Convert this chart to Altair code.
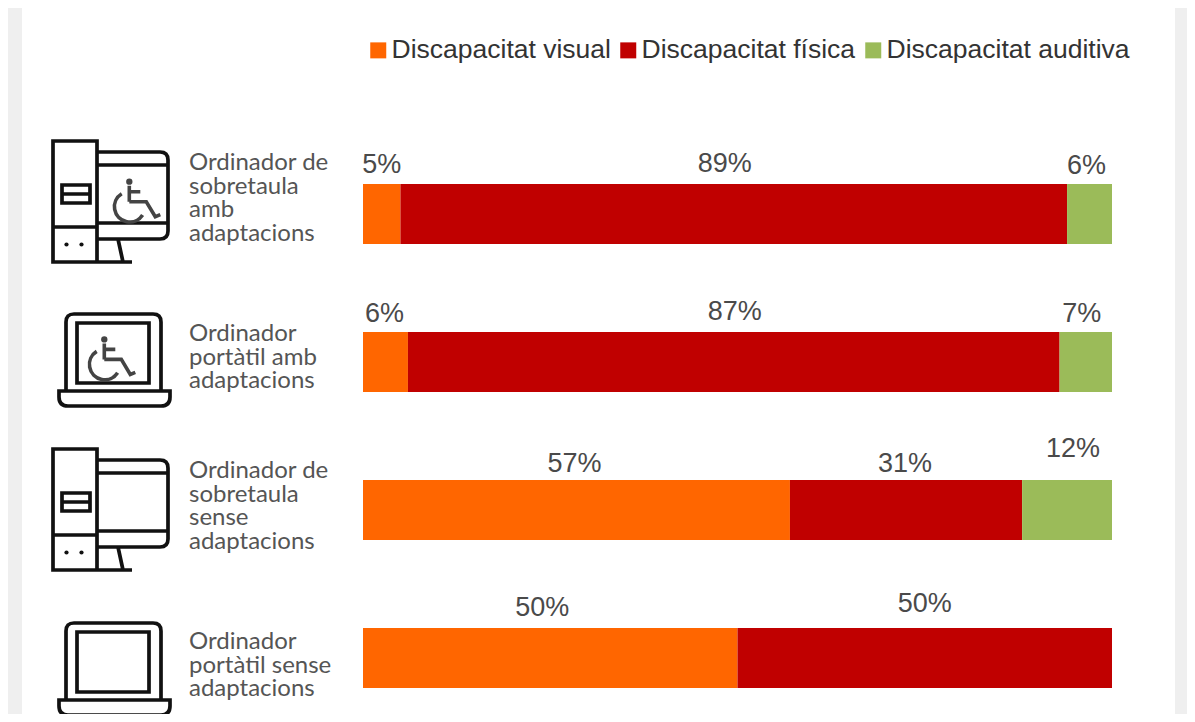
import altair as alt
import pandas as pd

categories = ["Ordinador de\nsobretaula\namb\nadaptacions",
              "Ordinador\nportàtil amb\nadaptacions",
              "Ordinador de\nsobretaula\nsense\nadaptacions",
              "Ordinador\nportàtil sense\nadaptacions"]
series = ["Discapacitat visual", "Discapacitat física", "Discapacitat auditiva"]
colors = ["#FF6600", "#C00000", "#9BBB59"]
visual = [5, 6, 57, 50]
fisica = [89, 87, 31, 50]
auditiva = [6, 7, 12, 0]

# hand nudges of the value labels (px), as placed in the source picture
label_dx = [[0, -9, -3], [-1, 1, -4], [-2, -1, 6], [-8, 0, 0]]
label_dy = [[-49, -50, -48], [-48, -50, -48], [-46, -46, -61], [-50, -54, 0]]
cat_dy = [-51, -28, -39, -16]

rows = []
for i, c in enumerate(categories):
    cum = 0
    for j, vals in enumerate([visual, fisica, auditiva]):
        v = vals[i]
        if v > 0:
            rows.append(dict(cat=c, serie=series[j], value=v, ord=j, mid=cum + v / 2,
                             label=f"{v}%", dx=label_dx[i][j], dy=label_dy[i][j]))
        cum += v
df = pd.DataFrame(rows)

xs = alt.Scale(domain=[0, 100], range=[355, 1104])
ys = alt.Scale(domain=categories, range=[176, 680], paddingInner=88 / 148, paddingOuter=0)
Y = alt.Y("cat:N", scale=ys, axis=None, sort=categories)

one = pd.DataFrame({"a": [0]})

panel = alt.Chart(one).mark_rect(color="#ffffff").encode(
    x=alt.value(14), x2=alt.value(1167), y=alt.value(0), y2=alt.value(706))

bars = alt.Chart(df).mark_bar(size=60).encode(
    x=alt.X("value:Q", stack="zero", scale=xs, axis=None),
    y=Y,
    order=alt.Order("ord:Q"),
    color=alt.Color("serie:N", scale=alt.Scale(domain=series, range=colors),
                    legend=alt.Legend(orient="none", legendX=357, legendY=29, direction="horizontal",
                                      columns=3, title=None, symbolType="square", symbolSize=256,
                                      symbolStrokeWidth=0, labelFont="Liberation Sans",
                                      labelFontSize=26.5, labelColor="#333333", labelOffset=0,
                                      columnPadding=4, labelLimit=400)),
)

layers = [panel, bars]

for _, r in df.iterrows():
    layers.append(alt.Chart(pd.DataFrame([r.to_dict()])).mark_text(
        font="Liberation Sans", fontSize=27, color="#4a4a4a", dx=int(r.dx), dy=int(r.dy),
        align="center", baseline="middle").encode(
        x=alt.X("mid:Q", scale=xs, axis=None), y=Y, text="label:N"))

for i, c in enumerate(categories):
    layers.append(alt.Chart(pd.DataFrame({"cat": [c]})).mark_text(
        font="Lato", fontSize=24, color="#555555", align="left", baseline="middle",
        lineBreak="\n", lineHeight=23.7, dy=cat_dy[i]).encode(
        x=alt.value(181), y=Y, text="cat:N"))

DESKTOP = ("M0 0H44V121H0Z M0 86H44 M9 44H37V62H9Z M9 53H37 M0 121H79 "
           "M44 11H107Q115 11 115 19V90Q115 98 107 98H44 M44 24H115 M44 82H115 M65 98L70 121")
LAPTOP = ("M0 77V8Q0 0 8 0H87Q95 0 95 8V77 M11 9H83V69H11Z "
          "M-7 77H104V83Q104 92 95 92H2Q-7 92 -7 83Z")
WHEEL = ("M0 4V20 M0 10H11 M0 20H17L26 35L31 33 "
         "M-7.6 12A15.3 15.3 0 1 0 13.3 33.3")


def icon(path, x, y, color="#111111", sw=3.7):
    return alt.Chart(one).mark_point(
        shape=path, size=4, filled=False, stroke=color, strokeWidth=sw, opacity=1).encode(
        x=alt.value(x), y=alt.value(y))


def dot(x, y, color="#111111", size=18):
    return alt.Chart(one).mark_circle(color=color, size=size, opacity=1).encode(
        x=alt.value(x), y=alt.value(y))


layers += [
    icon(DESKTOP, 45, 133),
    dot(58.5, 236.5), dot(73.5, 236.5),
    icon(WHEEL, 121.3, 173.7, "#444444", 3.6),
    dot(121.3, 173.7, "#444444", 40),
    icon(LAPTOP, 58, 306),
    icon(WHEEL, 96.3, 331.4, "#444444", 3.6),
    dot(96.3, 331.4, "#444444", 40),
    icon(DESKTOP, 45, 441),
    dot(58.5, 544.5), dot(73.5, 544.5),
    icon(LAPTOP, 58, 615),
]

chart = alt.layer(*layers).resolve_scale(color="shared").properties(
    width=1179, height=706, padding=0, background="#efefef",
    autosize=alt.AutoSizeParams(type="none"),
).configure_view(stroke=None)

chart.save("out.html", embed_options={"renderer": "svg", "actions": False})
